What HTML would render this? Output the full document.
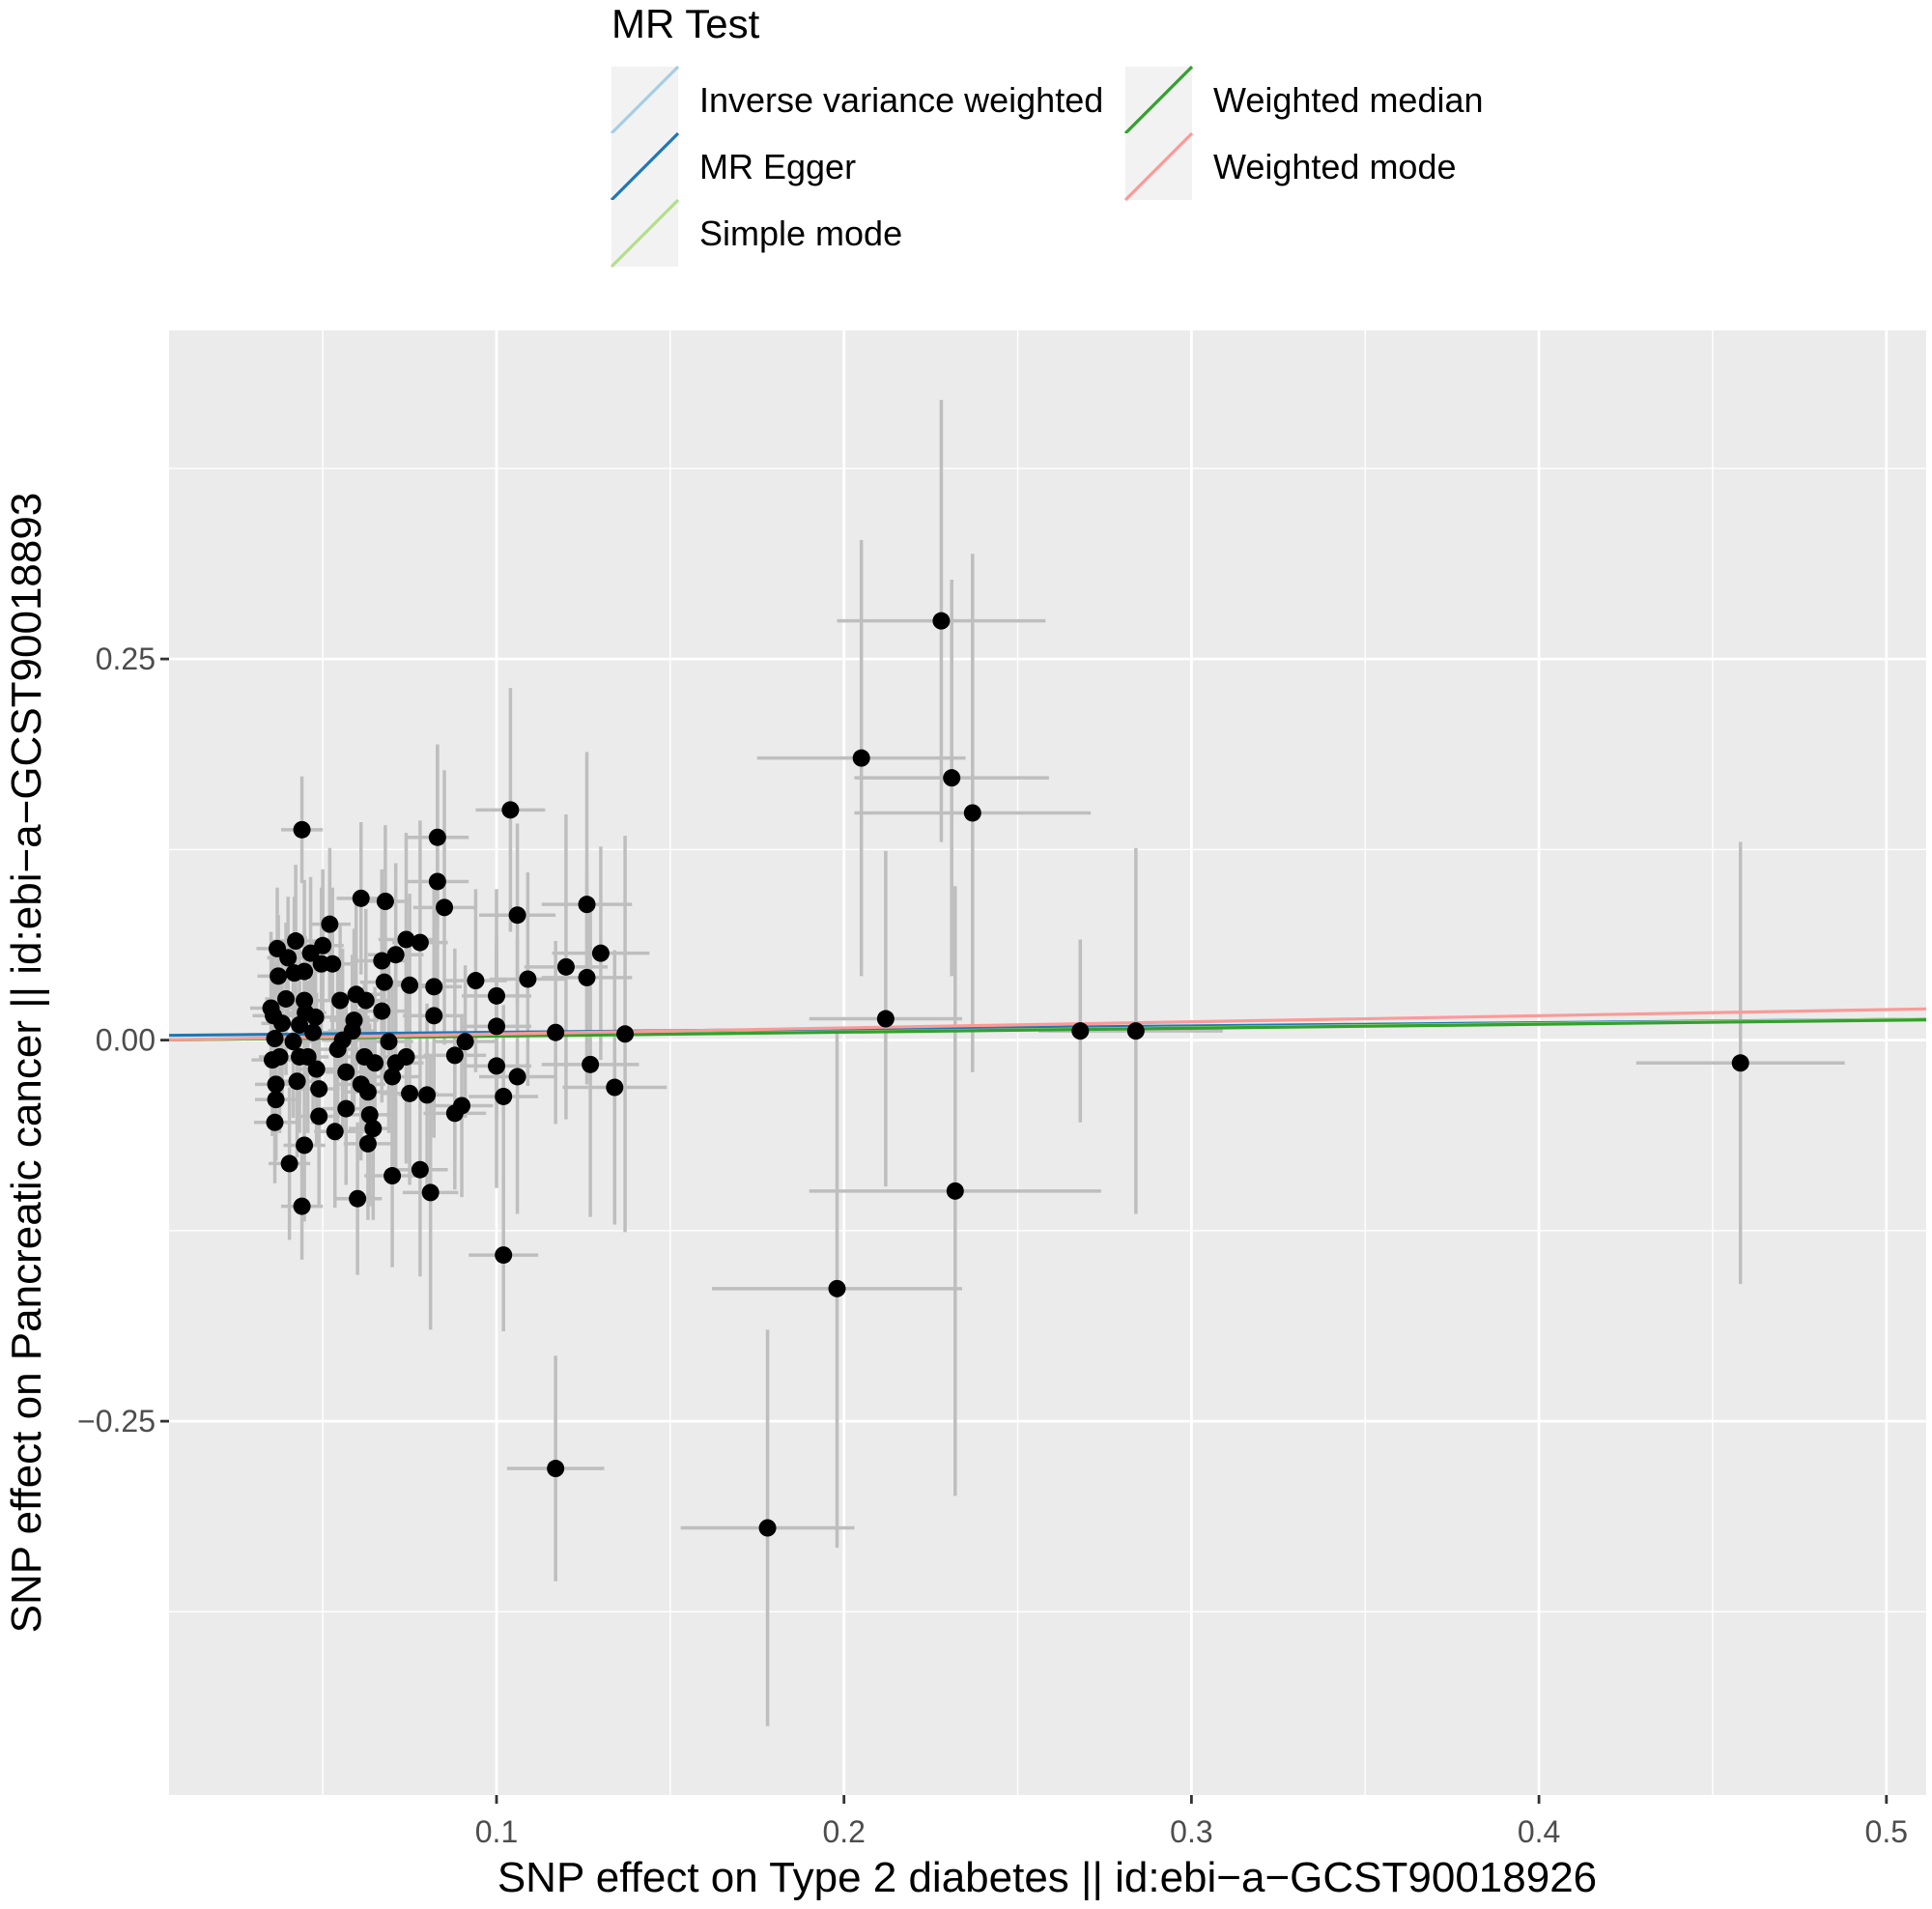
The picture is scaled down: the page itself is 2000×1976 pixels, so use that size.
<!DOCTYPE html>
<html><head><meta charset="utf-8"><style>
html,body{margin:0;padding:0;background:#fff;}
svg{display:block;font-family:"Liberation Sans",Arial,sans-serif;}
</style></head><body>
<svg id="chart" width="2000" height="1976" viewBox="0 0 2000 1976" xmlns="http://www.w3.org/2000/svg">
<g id="legend">
<text x="633" y="39" font-size="42" fill="#000">MR Test</text>
</g>
<rect x="175" y="342" width="1819" height="1516" fill="#ebebeb"/>
<g id="grid"></g>
<g id="axes"></g>
<g id="errs"></g>
<g id="lines"></g>
<g id="pts"></g>
<text x="1084" y="1958" font-size="44" text-anchor="middle" fill="#000">SNP effect on Type 2 diabetes || id:ebi−a−GCST90018926</text>
<text transform="translate(42,1100) rotate(-90)" font-size="44" text-anchor="middle" fill="#000">SNP effect on Pancreatic cancer || id:ebi−a−GCST90018893</text>
</svg>
<script>
const xVals=[0.228,0.205,0.231,0.237,0.212,0.268,0.284,0.458,0.232,0.198,0.178,0.117,0.102,0.104,0.137,0.134,0.130,0.127,0.126,0.126,0.120,0.117,0.109,0.106,0.106,0.100,0.100,0.100,0.102,0.094,0.091,0.090,0.088,0.088,0.085,0.083,0.083,0.082,0.082,0.081,0.080,0.078,0.078,0.075,0.075,0.074,0.074,0.071,0.071,0.070,0.070,0.069,0.068,0.0677,0.067,0.067,0.065,0.0645,0.0635,0.063,0.063,0.0624,0.062,0.061,0.060,0.0596,0.059,0.0585,0.061,0.0567,0.0567,0.0557,0.055,0.0543,0.0535,0.0528,0.052,0.050,0.0496,0.0489,0.0489,0.0482,0.0479,0.0472,0.0465,0.0457,0.0447,0.0447,0.0447,0.045,0.044,0.044,0.0433,0.0433,0.0426,0.0422,0.0418,0.0415,0.0404,0.040,0.0394,0.0383,0.0376,0.0372,0.0369,0.0365,0.0365,0.0362,0.0362,0.0358,0.0355,0.0351];
const yVals=[0.275,0.185,0.172,0.149,0.014,0.006,0.006,-0.015,-0.099,-0.163,-0.320,-0.281,-0.141,0.151,0.004,-0.031,0.057,-0.016,0.089,0.041,0.048,0.005,0.040,0.082,-0.024,0.029,0.009,-0.017,-0.037,0.039,-0.001,-0.043,-0.048,-0.010,0.087,0.104,0.133,0.016,0.035,-0.100,-0.036,-0.085,0.064,0.036,-0.035,0.066,-0.011,0.056,-0.015,-0.089,-0.024,-0.001,0.091,0.038,0.019,0.052,-0.015,-0.058,-0.049,-0.034,-0.068,0.026,-0.011,-0.029,-0.104,0.030,0.013,0.006,0.093,-0.045,-0.021,0.000,0.026,-0.006,-0.060,0.050,0.076,0.062,0.050,-0.050,-0.032,-0.019,0.015,0.005,0.057,-0.011,-0.069,0.045,0.026,0.018,0.138,-0.109,0.010,-0.011,-0.027,0.065,0.044,-0.001,-0.081,0.054,0.027,0.011,-0.011,0.042,0.060,-0.029,-0.039,-0.054,0.001,0.016,-0.013,0.021];
const xSe=[0.030,0.030,0.028,0.034,0.022,0.012,0.025,0.030,0.042,0.036,0.025,0.014,0.010,0.010,0.015,0.015,0.014,0.014,0.013,0.013,0.012,0.012,0.011,0.011,0.011,0.010,0.010,0.010,0.010,0.009,0.009,0.009,0.009,0.009,0.009,0.009,0.009,0.009,0.008,0.008,0.008,0.008,0.008,0.008,0.008,0.008,0.008,0.008,0.008,0.008,0.008,0.007,0.007,0.007,0.007,0.007,0.007,0.007,0.007,0.007,0.007,0.007,0.007,0.007,0.007,0.007,0.007,0.007,0.007,0.007,0.006,0.006,0.006,0.006,0.006,0.006,0.006,0.006,0.006,0.006,0.006,0.006,0.006,0.006,0.006,0.006,0.006,0.006,0.006,0.006,0.006,0.006,0.006,0.006,0.006,0.006,0.006,0.006,0.006,0.006,0.006,0.006,0.006,0.006,0.006,0.006,0.006,0.006,0.006,0.006,0.006,0.006];
const ySe=[0.145,0.143,0.13,0.17,0.11,0.06,0.12,0.145,0.2,0.17,0.13,0.074,0.05,0.08,0.13,0.09,0.07,0.1,0.1,0.07,0.1,0.06,0.07,0.06,0.09,0.07,0.06,0.08,0.06,0.06,0.05,0.06,0.05,0.07,0.09,0.09,0.06,0.08,0.07,0.09,0.06,0.07,0.08,0.06,0.06,0.07,0.07,0.06,0.07,0.06,0.06,0.06,0.05,0.06,0.06,0.06,0.05,0.06,0.06,0.05,0.05,0.06,0.05,0.05,0.05,0.06,0.06,0.05,0.05,0.05,0.05,0.06,0.05,0.06,0.05,0.05,0.05,0.05,0.05,0.06,0.05,0.05,0.05,0.06,0.05,0.05,0.05,0.06,0.05,0.05,0.035,0.035,0.05,0.05,0.05,0.05,0.05,0.05,0.05,0.04,0.05,0.05,0.05,0.04,0.04,0.05,0.04,0.04,0.05,0.05,0.05,0.05];
const methods=["Inverse variance weighted","MR Egger","Simple mode","Weighted median","Weighted mode"];
const intercepts=[0,0.003,0,0,0];
const slopes=[0.027,0.021,0.027,0.026,0.040];
const colors=["#a6cee3","#1f78b4","#b2df8a","#33a02c","#fb9a99"];
const xTicks=[0.1,0.2,0.3,0.4,0.5];
const yTicks=[-0.25,0,0.25];
const xMinor=[0.05,0.15,0.25,0.35,0.45];
const yMinor=[-0.375,-0.125,0.125,0.375];

const NS="http://www.w3.org/2000/svg";
const L=175,R=1994,T=342,B=1858;
const X=v=>514+(v-0.1)*3597;
const Y=v=>1076.6-v*1578;
const X0=(L-514)/3597+0.1, X1=(R-514)/3597+0.1;
function mk(tag,attrs,parent){const e=document.createElementNS(NS,tag);for(const k in attrs)e.setAttribute(k,attrs[k]);parent.appendChild(e);return e;}
const grid=document.getElementById('grid'),axes=document.getElementById('axes');
xMinor.forEach(v=>{const e=mk('line',{x1:X(v),x2:X(v),y1:T,y2:B,stroke:'#fff','stroke-width':1.4},grid);

});
yMinor.forEach(v=>{const e=mk('line',{x1:L,x2:R,y1:Y(v),y2:Y(v),stroke:'#fff','stroke-width':1.4},grid);

});
xTicks.forEach(v=>{const e=mk('line',{x1:X(v),x2:X(v),y1:T,y2:B,stroke:'#fff','stroke-width':2.8},grid);


const t=mk('line',{x1:X(v),x2:X(v),y1:B,y2:B+9,stroke:'#333','stroke-width':2.8},axes);


const s=mk('text',{x:X(v),y:B+49,'font-size':32,'text-anchor':'middle',fill:'#4d4d4d'},axes);s.textContent=String(v);

});
yTicks.forEach(v=>{const e=mk('line',{x1:L,x2:R,y1:Y(v),y2:Y(v),stroke:'#fff','stroke-width':2.8},grid);


const t=mk('line',{x1:L-9,x2:L,y1:Y(v),y2:Y(v),stroke:'#333','stroke-width':2.8},axes);


const s=mk('text',{x:L-14,y:Y(v)+11,'font-size':32,'text-anchor':'end',fill:'#4d4d4d'},axes);s.textContent=(v<0?'−':'')+Math.abs(v).toFixed(2);

});
const errs=document.getElementById('errs'),pts=document.getElementById('pts'),lines=document.getElementById('lines');
xVals.forEach((x,i)=>{const y=yVals[i];
const v=mk('line',{x1:X(x),x2:X(x),y1:Y(y-ySe[i]),y2:Y(y+ySe[i]),stroke:'#bebebe','stroke-width':3.5},errs);


const h=mk('line',{x1:X(x-xSe[i]),x2:X(x+xSe[i]),y1:Y(y),y2:Y(y),stroke:'#bebebe','stroke-width':3.5},errs);

});
methods.forEach((m,i)=>{const e=mk('line',{x1:L,y1:Y(intercepts[i]+slopes[i]*X0),x2:R,y2:Y(intercepts[i]+slopes[i]*X1),stroke:colors[i],'stroke-width':3.2},lines);

});
xVals.forEach((x,i)=>{const c=mk('circle',{cx:X(x),cy:Y(yVals[i]),r:9,fill:'#000'},pts);

});
const lg=document.getElementById('legend');
const pos=[[633,69,724],[633,138,724],[633,207,724],[1165,69,1256],[1165,138,1256]];
methods.forEach((m,i)=>{const [kx,ky,tx]=pos[i];
const g=mk('g',{},lg);


mk('rect',{x:kx,y:ky,width:69,height:69,fill:'#f2f2f2'},g);
mk('line',{x1:kx,y1:ky+69,x2:kx+69,y2:ky,stroke:colors[i],'stroke-width':3.2},g);
const t=mk('text',{x:tx,y:ky+47,'font-size':36,fill:'#000'},g);t.textContent=m;});
</script>
</body></html>
